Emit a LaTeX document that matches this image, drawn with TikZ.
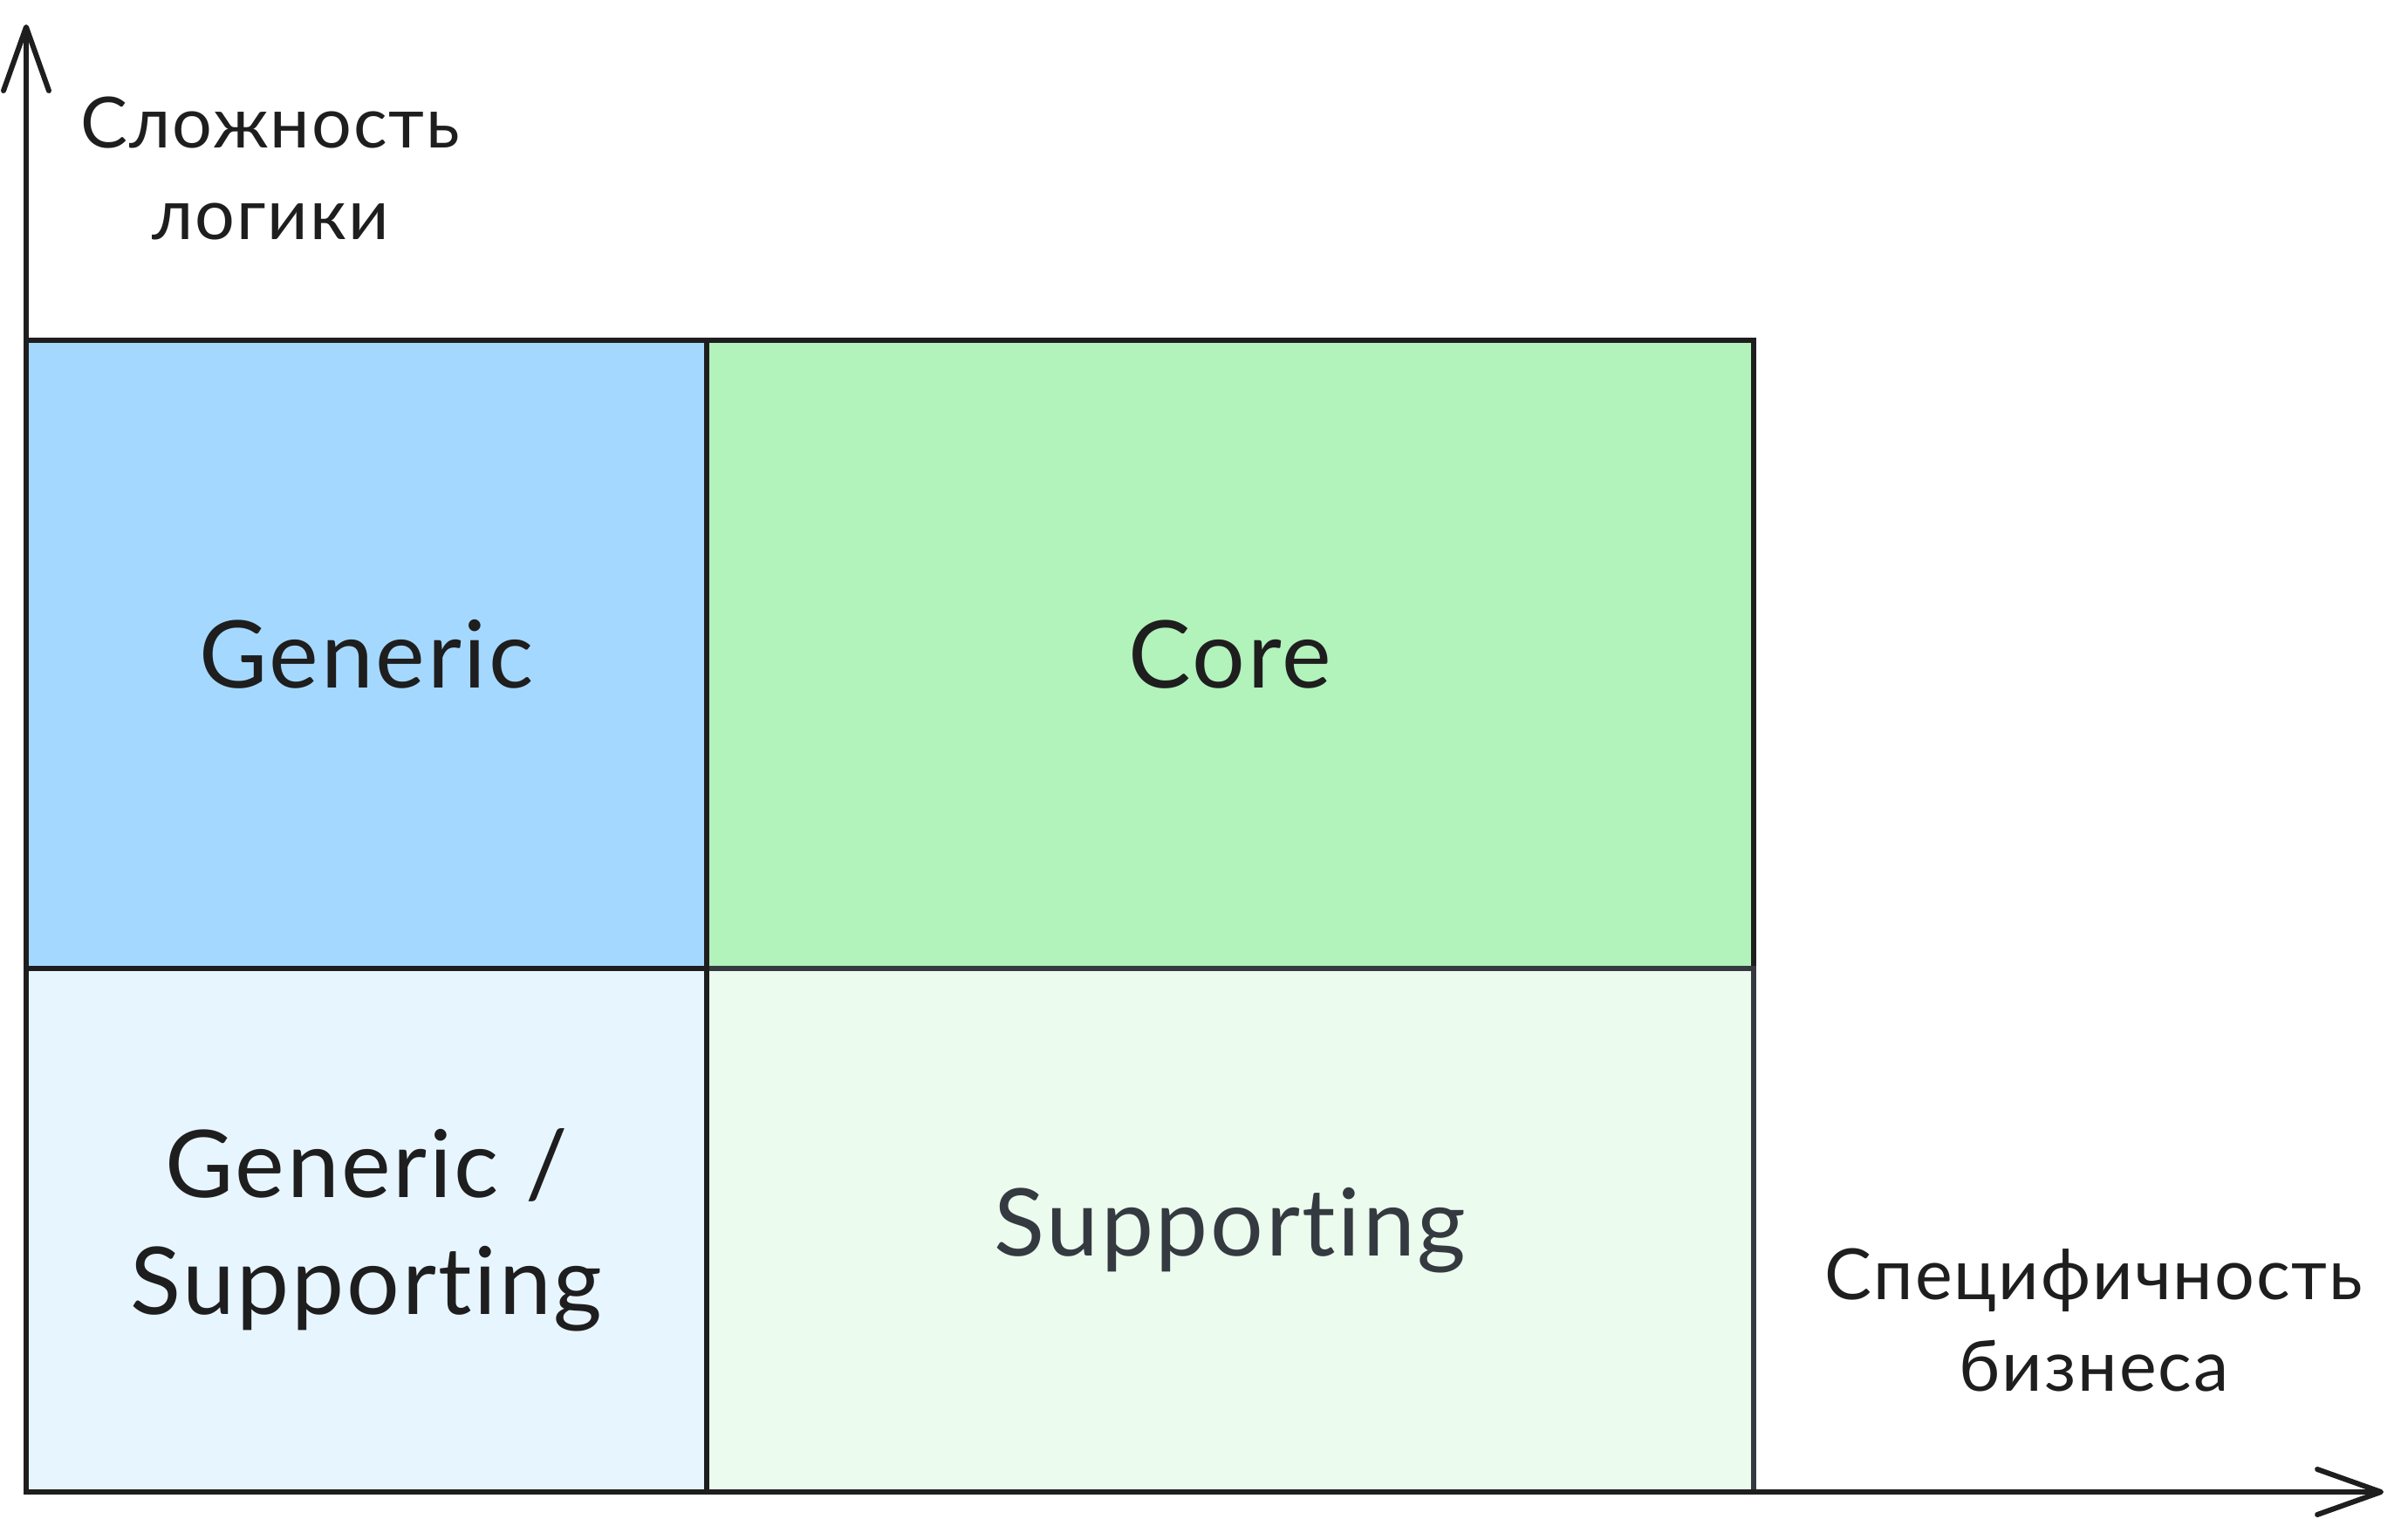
\documentclass[tikz,border=0pt]{standalone}
\usepackage{fontspec}
\setmainfont{Lato}[Ligatures=NoCommon, LetterSpace=2.5]
\usepackage{xcolor}
\usetikzlibrary{arrows.meta,positioning}
\definecolor{ink}{HTML}{1E1E1E}
\definecolor{slate}{HTML}{343A40}
\definecolor{genericfill}{HTML}{A5D8FF}
\definecolor{corefill}{HTML}{B2F2BB}
\definecolor{gensupfill}{HTML}{E7F5FF}
\definecolor{supfill}{HTML}{EBFBEE}
\tikzset{%
	quad/.style      = {draw=ink, rectangle, line width=1.7pt, text=ink, align=center, inner sep=0pt, font=\fontsize{30.5}{38.1}\selectfont},
	axis/.style      = {draw=ink, line width=1.7pt, line join=round, line cap=round},
	axislabel/.style = {text=ink, align=center, inner sep=0pt, font=\fontsize{23}{29.9}\selectfont},
	barb/.tip        = {Straight Barb[length=7.3mm, width=5.2mm, line cap=round, line join=round]},
}
\begin{document}
\begin{tikzpicture}
	\useasboundingbox (0,0) rectangle (27.6,17.4);
	% quadrants
	\node[quad, fill=genericfill, minimum width=7.8cm, minimum height=7.2cm] (generic) at (4.2,9.9) {Generic};
	\node[quad, fill=corefill, minimum width=12cm, minimum height=7.2cm] (core) at (14.1,9.9) {Core};
	\node[quad, fill=supfill, draw=slate, text=slate, minimum width=12cm, minimum height=6cm] (supporting) at (14.1,3.3) {Supporting};
	\node[quad, fill=gensupfill, minimum width=7.8cm, minimum height=6cm] (gensup) at (4.2,3.3) {Generic /\\Supporting};
	% axes
	\coordinate (ytip) at (0.3,17.12);
	\coordinate (xtip) at (27.32,0.3);
	\draw[axis, barb-barb] (ytip) |- (xtip);
	\node[axislabel] (ylabel) at (3.10,15.47) {Сложность\\логики};
	\node[axislabel] (xlabel) at (24.00,2.27) {Специфичность\\бизнеса};
\end{tikzpicture}
\end{document}
